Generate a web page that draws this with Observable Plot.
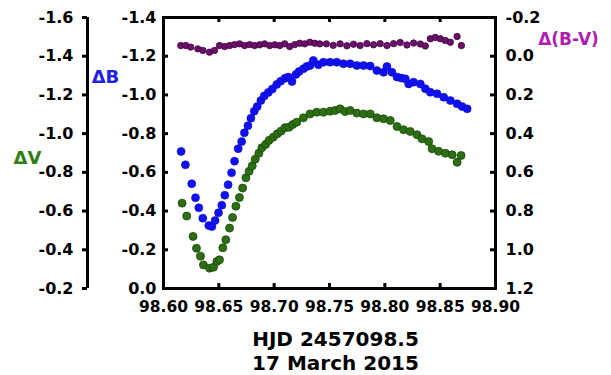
<!DOCTYPE html>
<html><head><meta charset="utf-8">
<script src="https://cdn.jsdelivr.net/npm/d3@7"></script>
<script src="https://cdn.jsdelivr.net/npm/@observablehq/plot@0.6"></script>
<style>
body{margin:0;background:#fff;}
#cap{width:611px;box-sizing:border-box;padding-left:60px;text-align:center;font:bold 20px/24px "DejaVu Sans",sans-serif;color:#000;}
</style></head><body>
<div id="chart"></div>
<div id="cap">HJD 2457098.5<br>17 March 2015</div>
<script>
// Tick values
const xTicks = [98.60, 98.65, 98.70, 98.75, 98.80, 98.85, 98.90];
const bTicks = [-1.4, -1.2, -1.0, -0.8, -0.6, -0.4, -0.2, 0.0];
const vTicks = [-1.6, -1.4, -1.2, -1.0, -0.8, -0.6, -0.4, -0.2];
const bvTicks = [-0.2, 0.0, 0.2, 0.4, 0.6, 0.8, 1.0, 1.2];

// ΔB series
const bTime = [98.6159,98.6198,98.6255,98.6289,98.6319,98.6355,98.6409,98.6437,98.6466,98.6497,98.6527,98.6554,98.6584,98.6615,98.6642,98.6675,98.6706,98.6731,98.6763,98.6790,98.6820,98.6847,98.6880,98.6910,98.6947,98.6983,98.7023,98.7059,98.7098,98.7128,98.7161,98.7197,98.7225,98.7264,98.7294,98.7324,98.7354,98.7399,98.7445,98.7505,98.7566,98.7626,98.7687,98.7747,98.7807,98.7868,98.7928,98.7988,98.8019,98.8064,98.8110,98.8149,98.8185,98.8215,98.8260,98.8321,98.8366,98.8411,98.8472,98.8532,98.8592,98.8653,98.8698,98.8744];
const bMag = [-0.708,-0.639,-0.541,-0.469,-0.417,-0.363,-0.325,-0.320,-0.351,-0.391,-0.430,-0.482,-0.536,-0.598,-0.658,-0.722,-0.759,-0.804,-0.841,-0.880,-0.916,-0.940,-0.971,-0.995,-1.013,-1.030,-1.054,-1.071,-1.086,-1.092,-1.069,-1.106,-1.121,-1.135,-1.147,-1.152,-1.178,-1.156,-1.169,-1.169,-1.169,-1.161,-1.161,-1.152,-1.152,-1.149,-1.126,-1.117,-1.147,-1.117,-1.092,-1.087,-1.083,-1.057,-1.066,-1.057,-1.032,-1.014,-1.006,-0.988,-0.971,-0.954,-0.940,-0.928];

// ΔV series
const vTime = [98.6168,98.6210,98.6267,98.6298,98.6334,98.6361,98.6416,98.6452,98.6482,98.6506,98.6536,98.6563,98.6597,98.6624,98.6654,98.6686,98.6715,98.6745,98.6774,98.6802,98.6829,98.6862,98.6889,98.6923,98.6953,98.6992,98.7028,98.7062,98.7098,98.7134,98.7168,98.7204,98.7264,98.7324,98.7385,98.7445,98.7505,98.7551,98.7596,98.7641,98.7687,98.7747,98.7807,98.7868,98.7928,98.7988,98.8049,98.8110,98.8169,98.8230,98.8291,98.8336,98.8396,98.8427,98.8486,98.8547,98.8608,98.8653,98.8689];
const vMag = [-0.641,-0.574,-0.469,-0.408,-0.367,-0.322,-0.305,-0.310,-0.339,-0.348,-0.410,-0.452,-0.512,-0.567,-0.625,-0.670,-0.719,-0.772,-0.806,-0.834,-0.868,-0.899,-0.927,-0.944,-0.965,-0.982,-0.999,-1.013,-1.030,-1.033,-1.047,-1.059,-1.082,-1.102,-1.111,-1.111,-1.116,-1.120,-1.128,-1.114,-1.120,-1.106,-1.102,-1.102,-1.082,-1.077,-1.068,-1.037,-1.020,-1.011,-0.994,-0.973,-0.959,-0.922,-0.909,-0.899,-0.891,-0.852,-0.887];

// Δ(B-V) series
const bvTime = [98.6156,98.6201,98.6246,98.6310,98.6355,98.6416,98.6461,98.6506,98.6552,98.6597,98.6642,98.6688,98.6733,98.6778,98.6823,98.6869,98.6914,98.6959,98.7005,98.7050,98.7095,98.7140,98.7186,98.7231,98.7276,98.7322,98.7367,98.7412,98.7472,98.7534,98.7596,98.7657,98.7717,98.7777,98.7838,98.7898,98.7958,98.8019,98.8079,98.8139,98.8200,98.8260,98.8321,98.8366,98.8411,98.8456,98.8502,98.8547,98.8592,98.8653,98.8692];
const bvColor = [-0.055,-0.055,-0.047,-0.038,-0.030,-0.021,-0.030,-0.055,-0.050,-0.055,-0.060,-0.064,-0.055,-0.060,-0.055,-0.059,-0.064,-0.055,-0.059,-0.055,-0.064,-0.050,-0.060,-0.067,-0.064,-0.072,-0.067,-0.064,-0.064,-0.056,-0.064,-0.054,-0.062,-0.055,-0.065,-0.059,-0.065,-0.055,-0.065,-0.071,-0.058,-0.068,-0.063,-0.053,-0.090,-0.097,-0.090,-0.081,-0.072,-0.102,-0.055];

const B = bTime.map((t, i) => ({t, m: bMag[i]}));
const V = vTime.map((t, i) => ({t, m: vMag[i]}));
const BV = bvTime.map((t, i) => ({t, c: bvColor[i]}));

const W = 611, H = 327, ML = 163, MR = 116, MT = 17, MB = 39;
const PW = W - ML - MR, PH = H - MT - MB;
const f1 = d => d.toFixed(1);
const font = {fontSize: 16, fontWeight: "bold", fill: "#000"};

const chart = Plot.plot({
  width: W, height: H,
  marginLeft: ML, marginRight: MR, marginTop: MT, marginBottom: MB,
  style: {fontFamily: "'DejaVu Sans', sans-serif", background: "#fff", color: "#000"},
  x: {domain: [98.60, 98.90]},
  y: {domain: [0, -1.4]},
  marks: [
    // axes labels
    Plot.axisY({ticks: bTicks, anchor: "left", tickSize: 0, tickPadding: 7, tickFormat: f1, label: null, ...font}),
    Plot.axisX({ticks: xTicks, anchor: "bottom", tickSize: 0, tickPadding: 12, tickFormat: d => d.toFixed(2), label: null, ...font, fontSize: 15.5}),
    Plot.text(vTicks, {y: d => d + 0.2, text: f1, frameAnchor: "left", textAnchor: "end", dx: -90, ...font}),
    Plot.text(bvTicks, {y: d => d - 1.2, text: f1, frameAnchor: "right", textAnchor: "start", dx: 10, ...font}),
    // inside ticks
    Plot.ruleY(bTicks, {y: d => d, insetRight: PW - 5, strokeWidth: 3, stroke: "#000"}),
    Plot.ruleY(bvTicks, {y: d => d - 1.2, insetLeft: PW - 5, strokeWidth: 3, stroke: "#000"}),
    Plot.ruleX(xTicks, {x: d => d, insetTop: PH - 5, strokeWidth: 3, stroke: "#000"}),
    Plot.ruleX(xTicks, {x: d => d, insetBottom: PH - 5, strokeWidth: 3, stroke: "#000"}),
    // outer ΔV axis
    Plot.ruleX([xTicks[0]], {x: d => d, dx: -76, strokeWidth: 3, stroke: "#000"}),
    Plot.ruleY(vTicks, {y: d => d + 0.2, insetRight: PW - 5, dx: -81, strokeWidth: 3, stroke: "#000"}),
    Plot.frame({stroke: "#000", strokeWidth: 3}),
    // data
    Plot.dot(BV, {x: "t", y: d => d.c - 1.2, r: 3.2, fill: "#6b0f6b", stroke: "#3e003e", strokeWidth: 0.8}),
    Plot.dot(V, {x: "t", y: d => d.m + 0.2, r: 4, fill: "#2c6e12", stroke: "#1b480a", strokeWidth: 0.8}),
    Plot.dot(B, {x: "t", y: "m", r: 4, fill: "#1010f5", stroke: "#0a0ab0", strokeWidth: 0.6}),
    // axis titles
    Plot.text(["ΔV"], {text: d => d, frameAnchor: "top-left", textAnchor: "middle", dx: -136, dy: 134, fill: "#2e7d12", fontSize: 18, fontWeight: "bold"}),
    Plot.text(["ΔB"], {text: d => d, frameAnchor: "top-left", textAnchor: "middle", dx: -58, dy: 53, fill: "#2020e6", fontSize: 18, fontWeight: "bold"}),
    Plot.text(["Δ(B-V)"], {text: d => d, frameAnchor: "top-right", textAnchor: "middle", dx: 73, dy: 15, fill: "#b01cb0", fontSize: 17, fontWeight: "bold"})
  ]
});
document.getElementById("chart").appendChild(chart);
</script>
</body></html>
